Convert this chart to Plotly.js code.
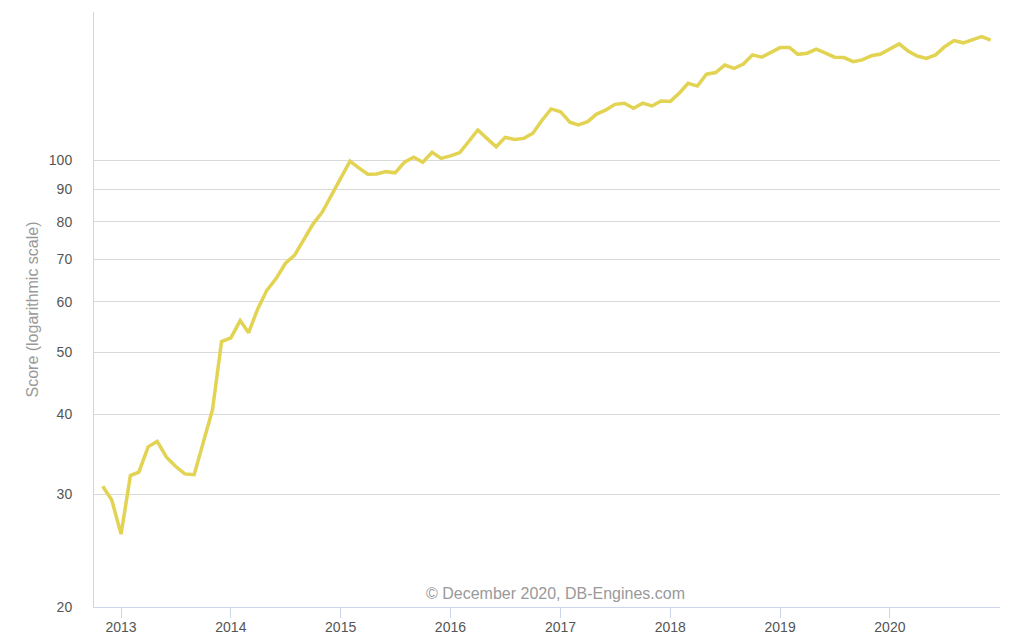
<!DOCTYPE html>
<html>
<head>
<meta charset="utf-8">
<script src="https://cdn.plot.ly/plotly-3.0.1.min.js"></script>
<style>html,body{margin:0;padding:0;background:#fff}#chart{width:1014px;height:644px}</style>
</head>
<body>
<div id="chart"></div>
<script>
const startYear = 2012, startMonth = 11;
const scores = [
  30.9, 29.4,
  26.0, 32.1, 32.5, 35.6, 36.3, 34.3, 33.2, 32.3, 32.2, 36.2, 40.7, 52.0,
  52.7, 56.1, 53.7, 58.6, 62.6, 65.3, 68.9, 71.0, 75.0, 79.4, 82.9, 88.2,
  94.0, 99.6, 97.3, 95.0, 95.1, 95.9, 95.5, 99.2, 101.0, 99.2, 102.8, 100.6,
  101.5, 102.7, 106.8, 111.4, 108.1, 104.9, 108.5, 107.7, 108.1, 110.1, 115.5, 120.2,
  119.0, 114.6, 113.5, 114.8, 118.0, 119.8, 122.2, 122.7, 120.5, 122.7, 121.5, 123.7,
  123.5, 127.4, 131.8, 130.5, 136.2, 137.0, 140.8, 139.1, 141.3, 146.0, 144.8, 147.2,
  149.9, 150.0, 146.3, 146.9, 149.0, 146.9, 144.8, 144.6, 142.5, 143.4, 145.6, 146.5,
  149.2, 151.9, 148.1, 145.4, 144.2, 146.0, 150.4, 153.7, 152.5, 154.0, 155.9, 154.0
];
const yTicks = [20, 30, 40, 50, 60, 70, 80, 90, 100];
const xTicks = ['2013-01-01','2014-01-01','2015-01-01','2016-01-01','2017-01-01','2018-01-01','2019-01-01','2020-01-01'];
const xTickText = ['2013','2014','2015','2016','2017','2018','2019','2020'];

const dates = scores.map((_, i) => {
  const m = startMonth - 1 + i;
  const y = startYear + Math.floor(m / 12);
  const mm = (m % 12) + 1;
  return y + '-' + String(mm).padStart(2, '0') + '-01';
});

const trace = {
  x: dates, y: scores, type: 'scatter', mode: 'lines',
  line: {color: '#e2d353', width: 3.5},
  hoverinfo: 'x+y'
};

const layout = {
  width: 1014, height: 644,
  margin: {l: 94, r: 14, t: 12, b: 37},
  paper_bgcolor: '#ffffff', plot_bgcolor: '#ffffff',
  showlegend: false,
  font: {family: 'Liberation Sans, Arial, sans-serif', color: '#555555', size: 14},
  xaxis: {
    type: 'date',
    range: ['2012-10-03', '2021-01-01'],
    tickvals: xTicks, ticktext: xTickText,
    showgrid: false, zeroline: false,
    showline: true, linecolor: '#ccd6eb', linewidth: 1,
    ticks: 'outside', ticklen: 10, tickcolor: '#ccd6eb', tickwidth: 1,
    ticklabelstandoff: -3,
    tickfont: {size: 14, color: '#555555'}
  },
  yaxis: {
    type: 'log',
    range: [Math.log10(20), Math.log10(20) + 595 / 639.5],
    tickvals: yTicks, ticktext: yTicks.map(String),
    showgrid: true, gridcolor: '#d9d9d9', gridwidth: 1,
    zeroline: false,
    showline: true, linecolor: '#ccd6eb', linewidth: 1,
    ticks: '', ticklabelstandoff: 18,
    tickfont: {size: 14, color: '#555555'},
    title: {text: 'Score (logarithmic scale)', font: {size: 16, color: '#999999'}, standoff: 6}
  },
  annotations: [{
    text: '© December 2020, DB-Engines.com',
    xref: 'paper', yref: 'paper', x: 0.509, y: 0.0235,
    xanchor: 'center', yanchor: 'middle', showarrow: false,
    font: {size: 16, color: '#999999'}
  }]
};

Plotly.newPlot('chart', [trace], layout, {displayModeBar: false, staticPlot: true});
</script>
</body>
</html>
